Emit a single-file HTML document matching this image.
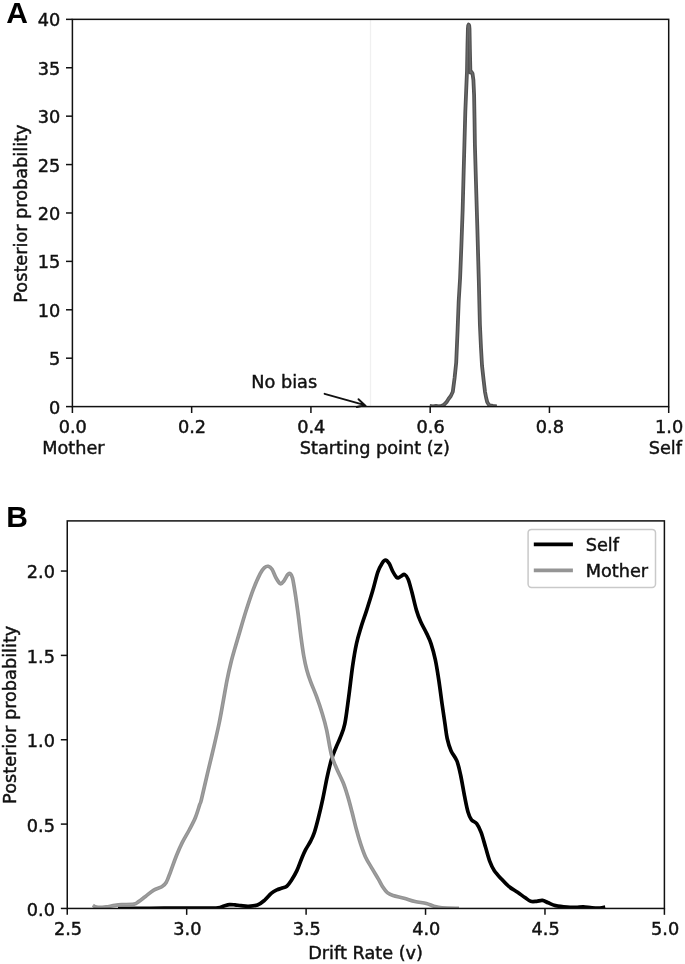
<!DOCTYPE html>
<html lang="en"><head><meta charset="utf-8"><title>Figure</title>
<style>html,body{margin:0;padding:0;background:#fff;}body{width:685px;height:964px;overflow:hidden;}svg{display:block;}
text{font-family:"DejaVu Sans", "Liberation Sans", sans-serif;font-size:17.7px;fill:#111;stroke:#111;stroke-width:0.45px;}
.pl{font-family:"Liberation Sans","DejaVu Sans",sans-serif;font-weight:bold;font-size:30px;fill:#000;stroke:none;}
.sp{fill:none;stroke:#111;stroke-width:1.5;}
.tk{stroke:#111;stroke-width:1.5;fill:none;}
</style></head><body>
<svg width="685" height="964" viewBox="0 0 685 964">
<rect x="0" y="0" width="685" height="964" fill="#ffffff"/>
<defs><clipPath id="ca"><rect x="72.40" y="19.35" width="596.30" height="387.25"/></clipPath>
<clipPath id="cb"><rect x="67.25" y="520.90" width="597.15" height="387.55"/></clipPath></defs>
<g id="panelA">
<text class="pl" x="6.3" y="23.1">A</text>
<line x1="370.50" y1="19.35" x2="370.50" y2="406.60" stroke="#f0f0f0" stroke-width="1.3"/>
<g clip-path="url(#ca)">
<path d="M429.80,406.00 L433.00,406.30 L436.00,405.90 L439.00,406.30 L441.50,405.90 L444.10,404.60 L446.50,402.20 L448.50,399.00 L450.80,396.00 L452.80,391.80 L454.60,378.00 L456.20,362.60 L457.60,330.00 L458.70,301.30 L460.10,278.00 L461.40,245.00 L462.65,210.00 L463.70,170.00 L464.40,145.00 L465.30,112.00 L466.20,90.00 L467.00,71.00 L467.50,45.00 L467.90,29.00 L468.20,25.60 L468.70,24.60 L469.20,25.60 L469.50,29.00 L469.90,50.00 L470.40,72.50 L471.40,71.80 L472.50,73.50 L473.40,80.00 L474.10,95.00 L474.50,118.00 L474.90,145.00 L475.90,180.00 L477.40,230.00 L478.80,280.00 L479.90,324.60 L481.00,348.00 L482.00,365.50 L483.60,380.00 L485.00,391.80 L486.20,398.00 L487.20,402.00 L488.60,404.40 L490.00,405.50 L493.00,405.90 L496.80,406.30" fill="none" stroke="#515151" stroke-width="3.8" stroke-linejoin="round" stroke-linecap="butt"/>
<path d="M429.80,406.00 L433.00,406.30 L436.00,405.90 L439.00,406.30 L441.50,405.90 L444.10,404.60 L446.50,402.20 L448.50,399.00 L450.80,396.00 L452.80,391.80 L454.60,378.00 L456.20,362.60 L457.60,330.00 L458.70,301.30 L460.10,278.00 L461.40,245.00 L462.65,210.00 L463.70,170.00 L464.40,145.00 L465.30,112.00 L466.20,90.00 L467.00,71.00 L467.50,45.00 L467.90,29.00 L468.20,25.60 L468.70,24.60 L469.20,25.60 L469.50,29.00 L469.90,50.00 L470.40,72.50 L471.40,71.80 L472.50,73.50 L473.40,80.00 L474.10,95.00 L474.50,118.00 L474.90,145.00 L475.90,180.00 L477.40,230.00 L478.80,280.00 L479.90,324.60 L481.00,348.00 L482.00,365.50 L483.60,380.00 L485.00,391.80 L486.20,398.00 L487.20,402.00 L488.60,404.40 L490.00,405.50 L493.00,405.90 L496.80,406.30" fill="none" stroke="#6a6a6a" stroke-width="1.4" stroke-linejoin="round" stroke-linecap="butt"/>
</g>
<line class="tk" x1="72.40" y1="406.60" x2="72.40" y2="413.00"/>
<text x="72.80" y="433.3" text-anchor="middle">0.0</text>
<line class="tk" x1="191.66" y1="406.60" x2="191.66" y2="413.00"/>
<text x="192.06" y="433.3" text-anchor="middle">0.2</text>
<line class="tk" x1="310.92" y1="406.60" x2="310.92" y2="413.00"/>
<text x="311.32" y="433.3" text-anchor="middle">0.4</text>
<line class="tk" x1="430.18" y1="406.60" x2="430.18" y2="413.00"/>
<text x="430.58" y="433.3" text-anchor="middle">0.6</text>
<line class="tk" x1="549.44" y1="406.60" x2="549.44" y2="413.00"/>
<text x="549.84" y="433.3" text-anchor="middle">0.8</text>
<line class="tk" x1="668.70" y1="406.60" x2="668.70" y2="413.00"/>
<text x="669.10" y="433.3" text-anchor="middle">1.0</text>
<line class="tk" x1="66.00" y1="406.60" x2="72.40" y2="406.60"/>
<text x="60.2" y="413.60" text-anchor="end">0</text>
<line class="tk" x1="66.00" y1="358.19" x2="72.40" y2="358.19"/>
<text x="60.2" y="365.19" text-anchor="end">5</text>
<line class="tk" x1="66.00" y1="309.79" x2="72.40" y2="309.79"/>
<text x="60.2" y="316.79" text-anchor="end">10</text>
<line class="tk" x1="66.00" y1="261.38" x2="72.40" y2="261.38"/>
<text x="60.2" y="268.38" text-anchor="end">15</text>
<line class="tk" x1="66.00" y1="212.98" x2="72.40" y2="212.98"/>
<text x="60.2" y="219.98" text-anchor="end">20</text>
<line class="tk" x1="66.00" y1="164.57" x2="72.40" y2="164.57"/>
<text x="60.2" y="171.57" text-anchor="end">25</text>
<line class="tk" x1="66.00" y1="116.16" x2="72.40" y2="116.16"/>
<text x="60.2" y="123.16" text-anchor="end">30</text>
<line class="tk" x1="66.00" y1="67.76" x2="72.40" y2="67.76"/>
<text x="60.2" y="74.76" text-anchor="end">35</text>
<line class="tk" x1="66.00" y1="19.35" x2="72.40" y2="19.35"/>
<text x="60.2" y="26.35" text-anchor="end">40</text>
<rect class="sp" x="72.40" y="19.35" width="596.30" height="387.25"/>
<text x="73.40" y="453.5" text-anchor="middle">Mother</text>
<text x="665.30" y="453.5" text-anchor="middle">Self</text>
<text x="374.80" y="453.5" text-anchor="middle">Starting point (z)</text>
<text transform="translate(26.8,213.6) rotate(-90)" text-anchor="middle">Posterior probability</text>
<text x="251.3" y="387.7">No bias</text>
<path d="M324.6,393.8 L364.9,405.2 M358.5,399.2 L364.9,405.2 L356.8,407.0" fill="none" stroke="#111" stroke-width="1.9" stroke-linecap="round" stroke-linejoin="miter"/>
</g>
<g id="panelB">
<text class="pl" x="6.3" y="526.5">B</text>
<g clip-path="url(#cb)">
<path d="M118.00,908.40 C123.33,908.38 138.83,908.37 150.00,908.30 C161.17,908.23 175.83,908.02 185.00,908.00 C194.17,907.98 199.50,908.23 205.00,908.20 C210.50,908.17 214.83,908.17 218.00,907.80 C221.17,907.43 222.08,906.53 224.00,906.00 C225.92,905.47 227.67,904.78 229.50,904.60 C231.33,904.42 233.08,904.72 235.00,904.90 C236.92,905.08 238.75,905.47 241.00,905.70 C243.25,905.93 245.75,906.42 248.50,906.30 C251.25,906.18 254.83,906.00 257.50,905.00 C260.17,904.00 262.17,902.27 264.50,900.30 C266.83,898.33 269.42,894.95 271.50,893.20 C273.58,891.45 275.33,890.62 277.00,889.80 C278.67,888.98 279.87,888.90 281.50,888.30 C283.13,887.70 285.17,887.48 286.80,886.20 C288.43,884.92 289.60,883.23 291.30,880.60 C293.00,877.97 295.28,874.05 297.00,870.40 C298.72,866.75 300.18,862.12 301.60,858.70 C303.02,855.28 304.00,852.82 305.50,849.90 C307.00,846.98 309.12,844.12 310.60,841.20 C312.08,838.28 313.10,836.30 314.40,832.40 C315.70,828.50 317.00,823.40 318.40,817.80 C319.80,812.20 321.33,805.62 322.80,798.80 C324.27,791.98 325.75,783.47 327.20,776.90 C328.65,770.33 330.05,764.27 331.50,759.40 C332.95,754.53 334.43,751.35 335.90,747.70 C337.37,744.05 338.82,741.47 340.30,737.50 C341.78,733.53 343.42,730.53 344.80,723.90 C346.18,717.27 347.28,707.43 348.60,697.70 C349.92,687.97 351.38,674.52 352.70,665.50 C354.02,656.48 355.13,649.92 356.50,643.60 C357.87,637.28 359.20,633.18 360.90,627.60 C362.60,622.02 364.75,616.18 366.70,610.10 C368.65,604.02 370.75,597.43 372.60,591.10 C374.45,584.77 376.23,576.70 377.80,572.10 C379.37,567.50 380.72,565.48 382.00,563.50 C383.28,561.52 384.30,560.18 385.50,560.20 C386.70,560.22 387.98,561.72 389.20,563.60 C390.42,565.48 391.57,569.20 392.80,571.50 C394.03,573.80 395.57,576.38 396.60,577.40 C397.63,578.42 398.17,577.87 399.00,577.60 C399.83,577.33 400.65,576.32 401.60,575.80 C402.55,575.28 403.60,573.90 404.70,574.50 C405.80,575.10 406.98,576.38 408.20,579.40 C409.42,582.42 410.63,587.48 412.00,592.60 C413.37,597.72 414.95,605.23 416.40,610.10 C417.85,614.97 419.00,617.92 420.70,621.80 C422.40,625.68 424.88,629.77 426.60,633.40 C428.32,637.03 429.55,639.22 431.00,643.60 C432.45,647.98 434.00,653.62 435.30,659.70 C436.60,665.78 437.68,672.80 438.80,680.10 C439.92,687.40 440.97,696.20 442.00,703.50 C443.03,710.80 444.13,718.07 445.00,723.90 C445.87,729.73 446.20,734.03 447.20,738.50 C448.20,742.97 449.38,746.97 451.00,750.70 C452.62,754.43 455.28,756.77 456.90,760.90 C458.52,765.03 459.43,769.67 460.70,775.50 C461.97,781.33 463.28,789.82 464.50,795.90 C465.72,801.98 466.83,808.00 468.00,812.00 C469.17,816.00 470.05,817.97 471.50,819.90 C472.95,821.83 475.10,821.52 476.70,823.60 C478.30,825.68 479.63,828.50 481.10,832.40 C482.57,836.30 484.03,842.13 485.50,847.00 C486.97,851.87 488.45,857.70 489.90,861.60 C491.35,865.50 492.27,867.48 494.20,870.40 C496.13,873.32 499.07,876.43 501.50,879.10 C503.93,881.77 506.12,884.20 508.80,886.40 C511.48,888.60 514.92,890.45 517.60,892.30 C520.28,894.15 522.72,896.00 524.90,897.50 C527.08,899.00 528.75,900.67 530.70,901.30 C532.65,901.93 534.65,901.45 536.60,901.30 C538.55,901.15 540.47,900.15 542.40,900.40 C544.33,900.65 546.02,901.93 548.20,902.80 C550.38,903.67 552.33,904.87 555.50,905.60 C558.67,906.33 563.78,906.90 567.20,907.20 C570.62,907.50 573.32,907.45 576.00,907.40 C578.68,907.35 580.63,906.83 583.30,906.90 C585.97,906.97 589.22,907.62 592.00,907.80 C594.78,907.98 597.80,908.13 600.00,908.00 C602.20,907.87 604.33,907.17 605.20,907.00" fill="none" stroke="#000" stroke-width="3.7" stroke-linejoin="round" stroke-linecap="butt"/>
<path d="M92.90,905.30 C93.25,905.53 94.15,906.35 95.00,906.70 C95.85,907.05 96.92,907.30 98.00,907.40 C99.08,907.50 100.12,907.38 101.50,907.30 C102.88,907.22 104.05,907.22 106.30,906.90 C108.55,906.58 112.38,905.77 115.00,905.40 C117.62,905.03 118.83,904.92 122.00,904.70 C125.17,904.48 131.23,904.62 134.00,904.10 C136.77,903.58 136.68,902.88 138.60,901.60 C140.52,900.32 142.97,898.30 145.50,896.40 C148.03,894.50 151.08,891.80 153.80,890.20 C156.52,888.60 159.72,888.13 161.80,886.80 C163.88,885.47 164.85,884.70 166.30,882.20 C167.75,879.70 168.82,876.20 170.50,871.80 C172.18,867.40 174.45,860.67 176.40,855.80 C178.35,850.93 180.02,846.98 182.20,842.60 C184.38,838.22 187.32,833.63 189.50,829.50 C191.68,825.37 193.60,821.93 195.30,817.80 C197.00,813.67 198.70,807.67 199.70,804.70 C200.70,801.73 199.98,805.32 201.30,800.00 C202.62,794.68 205.55,781.48 207.60,772.80 C209.65,764.12 211.67,756.20 213.60,747.90 C215.53,739.60 217.60,730.75 219.20,723.00 C220.80,715.25 221.88,708.60 223.20,701.40 C224.52,694.20 225.83,686.17 227.10,679.80 C228.37,673.43 229.50,668.45 230.80,663.20 C232.10,657.95 233.63,652.77 234.90,648.30 C236.17,643.83 236.58,642.53 238.40,636.40 C240.22,630.27 243.33,619.30 245.80,611.50 C248.27,603.70 250.80,595.92 253.20,589.60 C255.60,583.28 258.32,577.25 260.20,573.60 C262.08,569.95 263.17,568.92 264.50,567.70 C265.83,566.48 266.95,566.05 268.20,566.30 C269.45,566.55 270.68,567.25 272.00,569.20 C273.32,571.15 274.68,575.57 276.10,578.00 C277.52,580.43 279.13,583.42 280.50,583.80 C281.87,584.18 283.08,581.85 284.30,580.30 C285.52,578.75 286.83,575.62 287.80,574.50 C288.77,573.38 289.32,573.02 290.10,573.60 C290.88,574.18 291.67,574.83 292.50,578.00 C293.33,581.17 294.18,586.77 295.10,592.60 C296.02,598.43 297.03,605.70 298.00,613.00 C298.97,620.30 299.92,629.10 300.90,636.40 C301.88,643.70 302.92,651.22 303.90,656.80 C304.88,662.38 305.68,665.77 306.80,669.90 C307.92,674.03 309.00,677.22 310.60,681.60 C312.20,685.98 314.45,690.85 316.40,696.20 C318.35,701.55 320.60,708.10 322.30,713.70 C324.00,719.30 325.07,722.92 326.60,729.80 C328.13,736.68 329.85,748.60 331.50,755.00 C333.15,761.40 334.55,763.57 336.50,768.20 C338.45,772.83 341.35,778.18 343.20,782.80 C345.05,787.42 346.13,791.03 347.60,795.90 C349.07,800.77 350.53,806.40 352.00,812.00 C353.47,817.60 354.95,824.15 356.40,829.50 C357.85,834.85 359.17,839.48 360.70,844.10 C362.23,848.72 363.67,853.07 365.60,857.20 C367.53,861.33 370.17,865.25 372.30,868.90 C374.43,872.55 376.62,876.03 378.40,879.10 C380.18,882.17 381.52,885.05 383.00,887.30 C384.48,889.55 385.63,891.23 387.30,892.60 C388.97,893.97 390.22,894.57 393.00,895.50 C395.78,896.43 400.33,897.20 404.00,898.20 C407.67,899.20 411.27,900.62 415.00,901.50 C418.73,902.38 423.23,902.70 426.40,903.50 C429.57,904.30 431.40,905.57 434.00,906.30 C436.60,907.03 437.83,907.55 442.00,907.90 C446.17,908.25 456.17,908.32 459.00,908.40" fill="none" stroke="#939393" stroke-width="3.7" stroke-linejoin="round" stroke-linecap="butt"/>
<path d="M92.90,905.30 C93.25,905.53 94.15,906.35 95.00,906.70 C95.85,907.05 96.92,907.30 98.00,907.40 C99.08,907.50 100.12,907.38 101.50,907.30 C102.88,907.22 104.05,907.22 106.30,906.90 C108.55,906.58 112.38,905.77 115.00,905.40 C117.62,905.03 118.83,904.92 122.00,904.70 C125.17,904.48 131.23,904.62 134.00,904.10 C136.77,903.58 136.68,902.88 138.60,901.60 C140.52,900.32 142.97,898.30 145.50,896.40 C148.03,894.50 151.08,891.80 153.80,890.20 C156.52,888.60 159.72,888.13 161.80,886.80 C163.88,885.47 164.85,884.70 166.30,882.20 C167.75,879.70 168.82,876.20 170.50,871.80 C172.18,867.40 174.45,860.67 176.40,855.80 C178.35,850.93 180.02,846.98 182.20,842.60 C184.38,838.22 187.32,833.63 189.50,829.50 C191.68,825.37 193.60,821.93 195.30,817.80 C197.00,813.67 198.70,807.67 199.70,804.70 C200.70,801.73 199.98,805.32 201.30,800.00 C202.62,794.68 205.55,781.48 207.60,772.80 C209.65,764.12 211.67,756.20 213.60,747.90 C215.53,739.60 217.60,730.75 219.20,723.00 C220.80,715.25 221.88,708.60 223.20,701.40 C224.52,694.20 225.83,686.17 227.10,679.80 C228.37,673.43 229.50,668.45 230.80,663.20 C232.10,657.95 233.63,652.77 234.90,648.30 C236.17,643.83 236.58,642.53 238.40,636.40 C240.22,630.27 243.33,619.30 245.80,611.50 C248.27,603.70 250.80,595.92 253.20,589.60 C255.60,583.28 258.32,577.25 260.20,573.60 C262.08,569.95 263.17,568.92 264.50,567.70 C265.83,566.48 266.95,566.05 268.20,566.30 C269.45,566.55 270.68,567.25 272.00,569.20 C273.32,571.15 274.68,575.57 276.10,578.00 C277.52,580.43 279.13,583.42 280.50,583.80 C281.87,584.18 283.08,581.85 284.30,580.30 C285.52,578.75 286.83,575.62 287.80,574.50 C288.77,573.38 289.32,573.02 290.10,573.60 C290.88,574.18 291.67,574.83 292.50,578.00 C293.33,581.17 294.18,586.77 295.10,592.60 C296.02,598.43 297.03,605.70 298.00,613.00 C298.97,620.30 299.92,629.10 300.90,636.40 C301.88,643.70 302.92,651.22 303.90,656.80 C304.88,662.38 305.68,665.77 306.80,669.90 C307.92,674.03 309.00,677.22 310.60,681.60 C312.20,685.98 314.45,690.85 316.40,696.20 C318.35,701.55 320.60,708.10 322.30,713.70 C324.00,719.30 325.07,722.92 326.60,729.80 C328.13,736.68 329.85,748.60 331.50,755.00 C333.15,761.40 334.55,763.57 336.50,768.20 C338.45,772.83 341.35,778.18 343.20,782.80 C345.05,787.42 346.13,791.03 347.60,795.90 C349.07,800.77 350.53,806.40 352.00,812.00 C353.47,817.60 354.95,824.15 356.40,829.50 C357.85,834.85 359.17,839.48 360.70,844.10 C362.23,848.72 363.67,853.07 365.60,857.20 C367.53,861.33 370.17,865.25 372.30,868.90 C374.43,872.55 376.62,876.03 378.40,879.10 C380.18,882.17 381.52,885.05 383.00,887.30 C384.48,889.55 385.63,891.23 387.30,892.60 C388.97,893.97 390.22,894.57 393.00,895.50 C395.78,896.43 400.33,897.20 404.00,898.20 C407.67,899.20 411.27,900.62 415.00,901.50 C418.73,902.38 423.23,902.70 426.40,903.50 C429.57,904.30 431.40,905.57 434.00,906.30 C436.60,907.03 437.83,907.55 442.00,907.90 C446.17,908.25 456.17,908.32 459.00,908.40" fill="none" stroke="#a0a0a0" stroke-width="1.1" stroke-linejoin="round" stroke-linecap="butt"/>
</g>
<line class="tk" x1="67.25" y1="908.45" x2="67.25" y2="914.85"/>
<text x="67.95" y="934.9" text-anchor="middle">2.5</text>
<line class="tk" x1="186.68" y1="908.45" x2="186.68" y2="914.85"/>
<text x="187.38" y="934.9" text-anchor="middle">3.0</text>
<line class="tk" x1="306.11" y1="908.45" x2="306.11" y2="914.85"/>
<text x="306.81" y="934.9" text-anchor="middle">3.5</text>
<line class="tk" x1="425.54" y1="908.45" x2="425.54" y2="914.85"/>
<text x="426.24" y="934.9" text-anchor="middle">4.0</text>
<line class="tk" x1="544.97" y1="908.45" x2="544.97" y2="914.85"/>
<text x="545.67" y="934.9" text-anchor="middle">4.5</text>
<line class="tk" x1="664.40" y1="908.45" x2="664.40" y2="914.85"/>
<text x="665.10" y="934.9" text-anchor="middle">5.0</text>
<line class="tk" x1="60.85" y1="908.45" x2="67.25" y2="908.45"/>
<text x="55.0" y="915.85" text-anchor="end">0.0</text>
<line class="tk" x1="60.85" y1="824.10" x2="67.25" y2="824.10"/>
<text x="55.0" y="831.50" text-anchor="end">0.5</text>
<line class="tk" x1="60.85" y1="739.75" x2="67.25" y2="739.75"/>
<text x="55.0" y="747.15" text-anchor="end">1.0</text>
<line class="tk" x1="60.85" y1="655.40" x2="67.25" y2="655.40"/>
<text x="55.0" y="662.80" text-anchor="end">1.5</text>
<line class="tk" x1="60.85" y1="571.05" x2="67.25" y2="571.05"/>
<text x="55.0" y="578.45" text-anchor="end">2.0</text>
<rect class="sp" x="67.25" y="520.90" width="597.15" height="387.55"/>
<text x="365.6" y="958.5" text-anchor="middle">Drift Rate (v)</text>
<text transform="translate(16.0,714.8) rotate(-90)" text-anchor="middle">Posterior probability</text>
<rect x="528.1" y="529.4" width="127.4" height="58.1" rx="3.4" ry="3.4" fill="#ffffff" fill-opacity="0.8" stroke="#c9c9c9" stroke-width="1.5"/>
<line x1="533.8" y1="544.3" x2="572.9" y2="544.3" stroke="#000" stroke-width="3.7"/>
<line x1="533.8" y1="570.3" x2="572.9" y2="570.3" stroke="#959595" stroke-width="3.7"/>
<text x="585.7" y="550.8">Self</text>
<text x="585.7" y="576.7">Mother</text>
</g>
</svg></body></html>
